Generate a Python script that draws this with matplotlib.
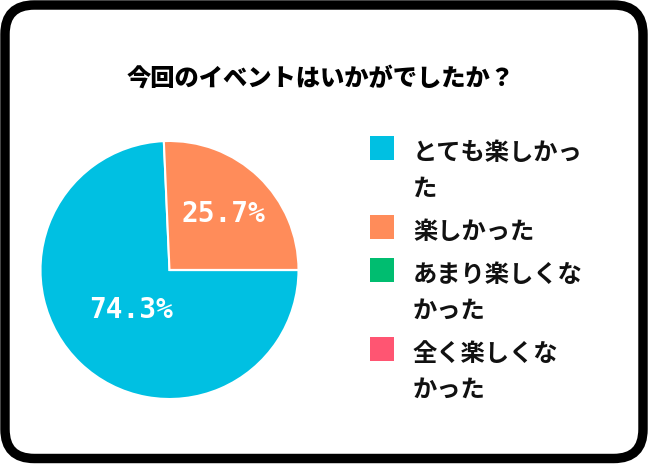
import matplotlib
matplotlib.use("Agg")
import matplotlib.pyplot as plt
from matplotlib.patches import FancyBboxPatch, Rectangle
import numpy as np

plt.rcParams['font.family'] = ['Noto Sans CJK JP', 'DejaVu Sans']

# data
title = "今回のイベントはいかがでしたか？"
categories = ["とても楽しかった", "楽しかった", "あまり楽しくなかった", "全く楽しくなかった"]
legend_lines = [["とても楽しかっ", "た"], ["楽しかった"], ["あまり楽しくな", "かった"], ["全く楽しくな", "かった"]]
values = [74.3, 25.7, 0.0, 0.0]
colors = ["#00C0E2", "#FF8C5A", "#00BD70", "#FF5572"]
label_dist = [0.43, 0.6, 0.6, 0.6]

W, H = 650, 465
fig = plt.figure(figsize=(W / 100, H / 100), dpi=100)


def fx(x):
    return x / W


def fy(y):
    return 1 - y / H


# rounded border
border = FancyBboxPatch((fx(5), fy(458.5)), fx(643) - fx(5), fy(5) - fy(458.5),
                        boxstyle="round,pad=0,rounding_size=0.045",
                        transform=fig.transFigure, facecolor="none",
                        edgecolor="black", linewidth=6.8, mutation_aspect=W / H)
fig.add_artist(border)

fig.text(fx(321), fy(78), title, ha="center", va="center",
         fontsize=17.5, fontweight="black", color="black")

# pie
cx, cy, r = 169.5, 270, 129
ax = fig.add_axes([fx(cx - r), fy(cy + r), 2 * r / W, 2 * r / H])
wedges, _ = ax.pie(values, colors=colors, startangle=0, counterclock=False,
                   radius=1, wedgeprops=dict(edgecolor="white", linewidth=1.5))
ax.set_xlim(-1, 1)
ax.set_ylim(-1, 1)
ax.set_aspect("equal")
ax.axis("off")

for w, v, d in zip(wedges, values, label_dist):
    if v <= 0:
        continue
    mid = np.deg2rad((w.theta1 + w.theta2) / 2)
    ax.text(d * np.cos(mid), d * np.sin(mid), f"{v:.1f}%", ha="center", va="center",
            color="white", fontsize=20, fontweight="bold", family="DejaVu Sans Mono")

# legend
y = 153
for lines, c in zip(legend_lines, colors):
    fig.add_artist(Rectangle((fx(370), fy(y - 5 + 12)), 24 / W, 24 / H,
                             transform=fig.transFigure, facecolor=c, edgecolor="none"))
    for i, line in enumerate(lines):
        fig.text(fx(413), fy(y + i * 36), line, ha="left", va="center",
                 fontsize=17.5, fontweight="bold", color="#111111")
    y += len(lines) * 36 + 7

fig.savefig("out.png", dpi=100)
